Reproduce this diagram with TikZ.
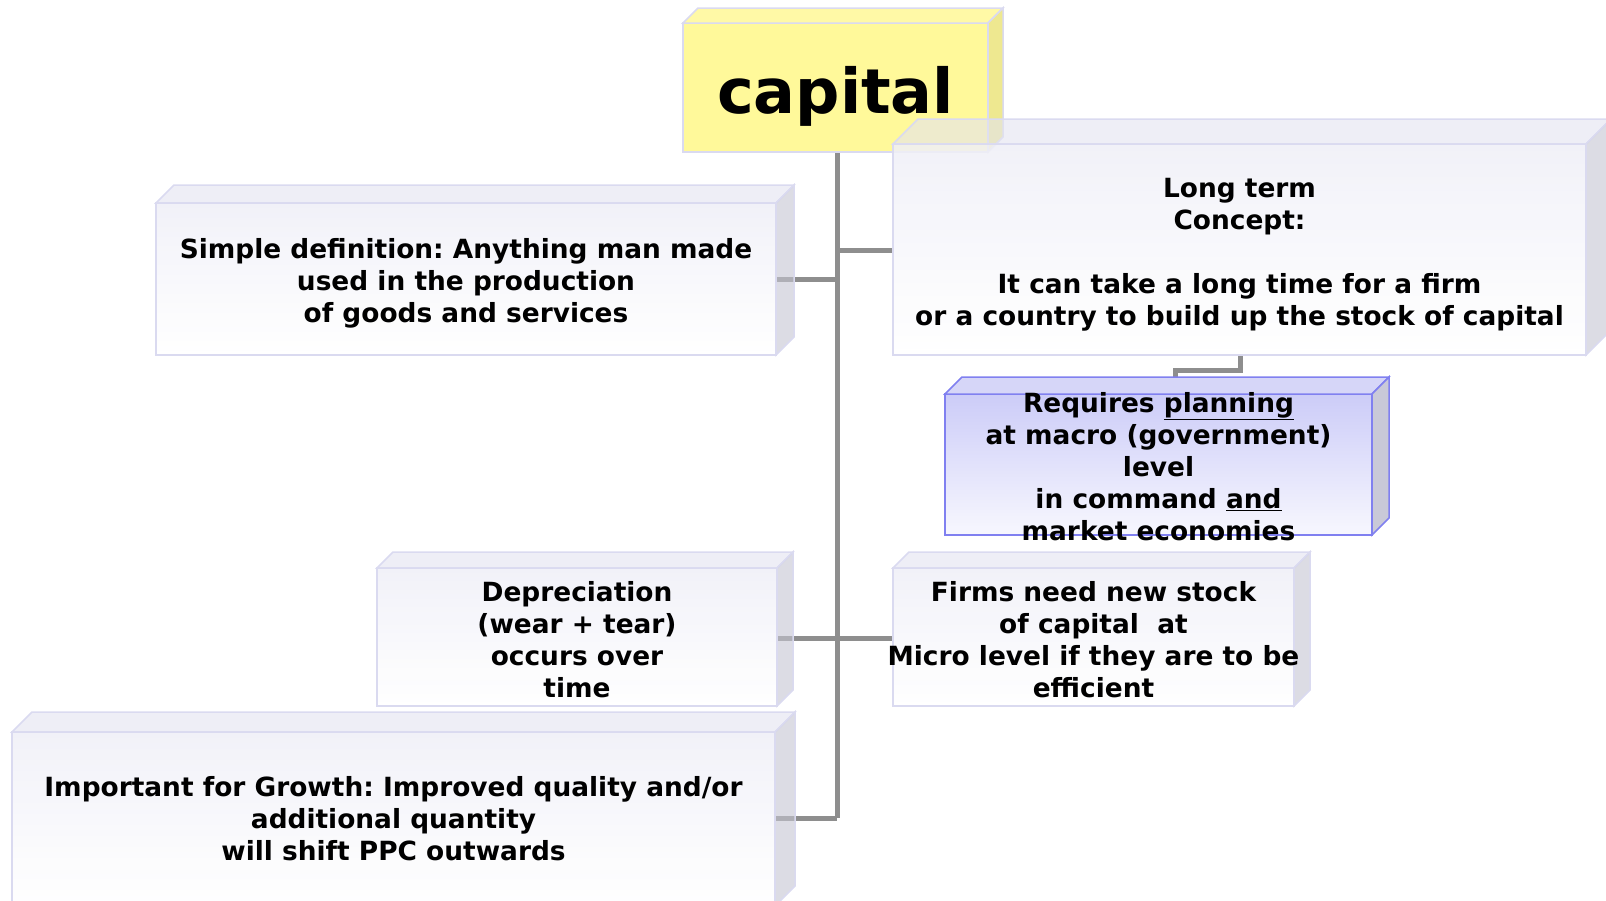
\documentclass[tikz,border=0pt]{standalone}
\usepackage{fontspec}
\setmainfont{DejaVu Sans}
\usetikzlibrary{calc}
\frenchspacing

\definecolor{conncol}{HTML}{8E8E8E}
\definecolor{edgecol}{HTML}{DADAF0}
\definecolor{grytopc}{HTML}{E3E3F0}
\definecolor{grysidec}{HTML}{C5C5D2}
\definecolor{gryface}{HTML}{EFEFF7}
\definecolor{yelface}{HTML}{FFF99A}
\definecolor{yeltopc}{HTML}{FFF9A6}
\definecolor{yelsidec}{HTML}{EEE890}
\definecolor{planedge}{HTML}{8080F0}
\definecolor{planface}{HTML}{CCCCF8}
\definecolor{plantopc}{HTML}{D6D6F8}
\definecolor{plansidec}{HTML}{C9C9D8}

\begin{document}
\begin{tikzpicture}[x=1pt,y=-1pt,
    conn/.style={draw=conncol,line width=5pt},
    txt/.style={align=center,inner sep=0pt,font=\bfseries\fontsize{26.4}{32}\selectfont},
    gry front/.style={draw=edgecol,line width=1.5pt,outer sep=0pt,top color=gryface,bottom color=white,fill opacity=.85},
    gry top/.style={draw=edgecol,line width=1.5pt,fill=grytopc,fill opacity=.6},
    gry side/.style={draw=edgecol,line width=1.5pt,fill=grysidec,fill opacity=.6},
    yel front/.style={draw=edgecol,line width=1.5pt,outer sep=0pt,fill=yelface},
    yel top/.style={draw=edgecol,line width=1.5pt,fill=yeltopc},
    yel side/.style={draw=edgecol,line width=1.5pt,fill=yelsidec},
    pln front/.style={draw=planedge,line width=1.5pt,outer sep=0pt,top color=planface,bottom color=white!85!planface},
    pln top/.style={draw=planedge,line width=1.5pt,fill=plantopc},
    pln side/.style={draw=planedge,line width=1.5pt,fill=plansidec}]
  \clip (0,0) rectangle (1606,900);
  \useasboundingbox (0,0) rectangle (1606,900);

  % connectors first, boxes sit on top
  \coordinate (top) at (837,152);
  \coordinate (bot) at (837,818);
  \draw[conn] (top) -- (bot);
  \draw[conn] (top |- 0,250) -- (893,250);
  \draw[conn] (776,279) -- (top |- 0,279);
  \draw[conn] (777,638) -- (893,638);
  \draw[conn] (775,818) -- (bot);
  \draw[conn] (1240,355) |- (1175,370) -- (1175,377);

  % boxes: name / centre / width / height / depth / look
  \foreach \n/\x/\y/\w/\h/\d/\s in {
      cap/835.5/87.5/305/129/15/yel,
      long/1239.5/249.5/693/211/25/gry,
      simp/466/279/620/152/18/gry,
      plan/1158.5/464.5/427/141/17/pln,
      depr/577/637/400/138/16/gry,
      firm/1093.5/637/401/138/16/gry,
      grow/393.5/819/763/174/20/gry}{
    \node[\s\space front,minimum width=\w pt,minimum height=\h pt] (\n) at (\x,\y) {};
    \filldraw[\s\space top] (\n.north west) -- ++(\d,-\d) -- ++(\w,0) -- (\n.north east) -- cycle;
    \filldraw[\s\space side] (\n.north east) -- ++(\d,-\d) -- ++(0,\h) -- (\n.south east) -- cycle;
  }

  \node[txt,anchor=base,font=\bfseries\fontsize{62}{70}\selectfont] (capt) at (835.5,113) {capital};
  \node[txt] (longt) at ($(long.center)+(0,5)$) {Long term\\Concept:\\[32pt]It can take a long time for a firm\\or a country to build up the stock of capital};
  \node[txt] (simpt) at ($(simp.center)+(0,4)$) {Simple definition: Anything man made\\used in the production\\of goods and services};
  \node[txt] (plant) at ($(plan.center)+(0,2)$) {Requires \underline{planning}\\at macro (government)\\level\\in command \underline{and}\\market economies};
  \node[txt] (deprt) at ($(depr.center)+(0,3)$) {Depreciation\\(wear + tear)\\occurs over\\time};
  \node[txt] (firmt) at ($(firm.center)+(0,3)$) {Firms need new stock\\of capital~ at\\Micro level if they are to be\\efficient};
  \node[txt] (growt) at (grow.center) {Important for Growth: Improved quality and/or\\additional quantity\\will shift PPC outwards};
\end{tikzpicture}
\end{document}
